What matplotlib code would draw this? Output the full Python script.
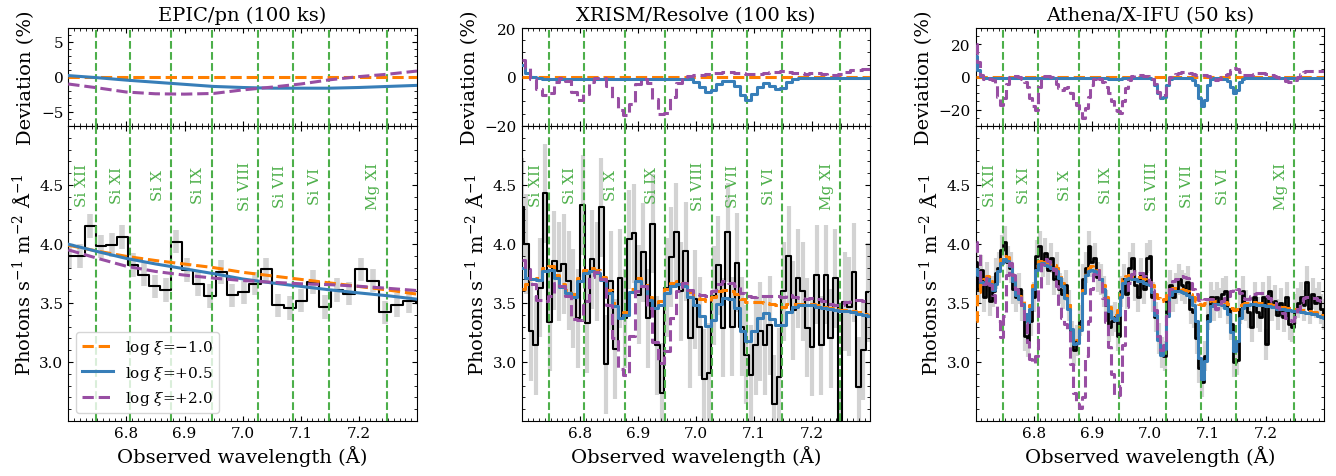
import matplotlib.pyplot as plt
import numpy as np
from matplotlib.ticker import MultipleLocator

plt.rcParams['font.family'] = 'DejaVu Serif'
plt.rcParams['mathtext.fontset'] = 'dejavuserif'

# ion lines (observed frame)
line_wl = [6.747, 6.807, 6.877, 6.947, 7.027, 7.087, 7.148, 7.248]
line_names = ['Si XII', 'Si XI', 'Si X', 'Si IX', 'Si VIII', 'Si VII', 'Si VI', 'Mg XI']

model_labels = [r'log $\xi$=$-$1.0', r'log $\xi$=+0.5', r'log $\xi$=+2.0']
model_colors = ['#ff7f00', '#377eb8', '#984ea3']
model_styles = ['--', '-', '--']

# ---- EPIC/pn ----
wl_pn = [6.702, 6.720, 6.738, 6.756, 6.775, 6.793, 6.811, 6.830, 6.849, 6.868,
         6.886, 6.905, 6.924, 6.944, 6.963, 6.982, 7.002, 7.021, 7.041, 7.061,
         7.081, 7.101, 7.121, 7.142, 7.162, 7.183, 7.203, 7.224, 7.245, 7.266,
         7.287, 7.308]
flux_pn = [3.90, 3.90, 4.15, 3.98, 3.99, 4.06, 3.82, 3.74, 3.64, 3.61,
           4.02, 3.78, 3.66, 3.56, 3.765, 3.565, 3.59, 3.665, 3.785, 3.48,
           3.46, 3.52, 3.68, 3.465, 3.61, 3.58, 3.785, 3.69, 3.42, 3.485,
           3.515, 3.50]
err_pn = 0.10
mwl_pn = [6.70, 6.75, 6.80, 6.85, 6.90, 6.95, 7.00, 7.05, 7.10, 7.15, 7.20, 7.25, 7.30]
ref_pn = [3.99, 3.94, 3.895, 3.86, 3.83, 3.80, 3.76, 3.73, 3.70, 3.67, 3.64, 3.61, 3.575]
dev05_pn = [0.2, -0.1, -0.45, -0.75, -1.05, -1.35, -1.5, -1.6, -1.6, -1.6, -1.5, -1.35, -1.2]
dev20_pn = [-1.0, -1.55, -2.15, -2.4, -2.45, -2.35, -1.85, -1.45, -1.0, -0.4, 0.05, 0.4, 0.85]

# ---- XRISM/Resolve ----
wl_xrism = np.linspace(6.700, 7.296, 75)
flux_xrism = [4.31,
              4.00, 3.26, 3.14, 3.63, 4.43, 3.34, 3.86, 3.77, 3.83, 3.69,
              3.54, 3.37, 4.33, 3.33, 3.87, 3.77, 4.31, 2.98, 3.69, 3.11,
              3.71, 3.37, 4.04, 4.09, 3.57, 3.93, 3.37, 4.17, 3.14, 2.74,
              3.63, 3.89, 4.10, 3.60, 3.94, 3.20, 3.53, 3.30, 2.86, 2.91,
              3.56, 3.82, 3.29, 4.10, 3.30, 3.84, 3.30, 3.06, 2.89, 3.14,
              3.26, 3.14, 3.31, 2.64, 2.87, 3.60, 3.90, 3.44, 3.71, 3.60,
              3.29, 3.13, 3.74, 3.14, 3.74, 3.20, 3.71, 2.40, 3.51, 3.47,
              3.76, 2.79, 3.10, 3.59]
err_xrism = 0.42
mwl_xrism = np.linspace(6.70, 7.30, 61)
ref_xrism = [3.62, 3.66, 3.70, 3.71, 3.80, 3.81, 3.74, 3.66, 3.61, 3.58,
             3.71, 3.78, 3.80, 3.78, 3.72, 3.61, 3.50, 3.40, 3.42, 3.62,
             3.71, 3.67, 3.55, 3.48, 3.52, 3.62, 3.67, 3.69, 3.67, 3.59,
             3.55, 3.53, 3.52, 3.55, 3.60, 3.61, 3.60, 3.58, 3.53, 3.51,
             3.51, 3.51, 3.50, 3.49, 3.48, 3.47, 3.49, 3.49, 3.49, 3.49,
             3.49, 3.48, 3.47, 3.46, 3.45, 3.44, 3.44, 3.43, 3.42, 3.41, 3.40]
dev05_xrism = [4.8, 1.5, 0.0, -0.5, -0.7, -0.7, -0.7, -0.7, -0.7, -0.7,
               -0.7, -0.7, -0.7, -0.7, -0.7, -0.7, -0.7, -0.7, -0.7, -0.7,
               -0.7, -0.7, -0.7, -0.7, -1.0, -1.0, -0.7, -0.7, -0.7, -1.0,
               -2.0, -4.0, -6.0, -5.5, -3.0, -1.8, -1.8, -3.5, -7.5, -9.5,
               -7.0, -4.0, -2.5, -3.5, -4.8, -4.5, -2.0, -0.8, -0.3, -0.3,
               -0.3, -0.3, -0.3, -0.3, -0.3, -0.3, -0.3, -0.3, -0.3, -0.3, -0.3]
dev20_xrism = [6.8, 3.5, -1.0, -5.0, -7.5, -6.5, -2.0, -0.5, -1.5, -6.0,
               -9.5, -7.0, -2.0, -0.5, -0.5, -3.5, -8.5, -13.5, -15.5, -11.0,
               -3.0, -0.7, -2.5, -9.0, -15.0, -14.5, -8.0, -2.5, 0.0, 0.5,
               0.8, 1.0, 1.2, 1.5, 1.8, 2.0, 2.0, 1.8, 1.5, 1.3,
               1.2, 1.3, 1.8, 2.0, 2.2, 2.3, 2.2, 1.8, 1.5, 1.3,
               1.5, 1.5, 1.3, 1.0, 1.0, 1.2, 2.0, 2.8, 3.0, 3.2, 3.4]

# ---- Athena/X-IFU ----
wl_xifu = np.linspace(6.70, 7.30, 121)
flux_xifu = [3.85, 3.62, 3.78, 3.55, 3.72, 3.52, 3.60, 3.75, 3.80, 3.95,
             4.02, 3.85, 3.80, 3.62, 3.55, 3.62, 3.48, 3.22, 3.17, 3.35,
             3.55, 3.90, 3.98, 3.85, 3.92, 3.78, 3.88, 3.70, 3.80, 3.62,
             3.58, 3.65, 3.48, 3.22, 3.10, 3.18, 3.35, 3.70, 3.80, 3.98,
             3.85, 3.88, 3.72, 3.70, 3.60, 3.48, 3.30, 3.35, 3.38, 3.22,
             3.60, 3.70, 3.58, 3.80, 3.88, 3.65, 3.55, 3.75, 3.62, 3.88,
             3.90, 3.55, 3.38, 3.20, 3.08, 3.05, 3.55, 3.65, 3.55, 3.62,
             3.70, 3.65, 3.62, 3.68, 3.45, 3.42, 3.20, 2.95, 2.83, 3.05,
             3.40, 3.55, 3.48, 3.55, 3.50, 3.58, 3.60, 3.45, 3.32, 3.00,
             3.02, 3.45, 3.60, 3.48, 3.42, 3.30, 3.55, 3.42, 3.38, 3.55,
             3.15, 3.60, 3.48, 3.52, 3.40, 3.50, 3.38, 3.55, 3.32, 3.30,
             3.45, 3.50, 3.55, 3.48, 3.68, 3.45, 3.58, 3.50, 3.55, 3.45, 3.40]
err_xifu = 0.13
mwl_xifu = np.linspace(6.70, 7.30, 121)
ref_xifu = [3.35, 3.59, 3.66, 3.70, 3.73, 3.69, 3.64, 3.69, 3.80, 3.87,
            3.90, 3.89, 3.84, 3.72, 3.60, 3.56, 3.52, 3.43, 3.37, 3.48,
            3.65, 3.81, 3.86, 3.87, 3.85, 3.84, 3.83, 3.82, 3.80, 3.74,
            3.67, 3.57, 3.48, 3.31, 3.18, 3.19, 3.30, 3.61, 3.77, 3.80,
            3.81, 3.80, 3.78, 3.73, 3.65, 3.55, 3.47, 3.41, 3.40, 3.44,
            3.59, 3.70, 3.73, 3.74, 3.73, 3.73, 3.72, 3.72, 3.70, 3.69,
            3.68, 3.65, 3.58, 3.54, 3.52, 3.53, 3.57, 3.62, 3.63, 3.63,
            3.63, 3.62, 3.61, 3.60, 3.58, 3.55, 3.52, 3.49, 3.48, 3.50,
            3.52, 3.53, 3.52, 3.52, 3.52, 3.52, 3.51, 3.49, 3.46, 3.44,
            3.45, 3.48, 3.49, 3.50, 3.50, 3.51, 3.51, 3.50, 3.50, 3.50,
            3.49, 3.49, 3.48, 3.48, 3.47, 3.47, 3.47, 3.46, 3.46, 3.45,
            3.45, 3.45, 3.44, 3.44, 3.43, 3.43, 3.42, 3.42, 3.41, 3.40, 3.39]
dev05_xifu = [13, 4, 0.5, -0.8, -0.8, -0.8, -0.8, -0.8, -0.8, -0.8,
              -0.8, -0.8, -0.8, -0.8, -0.8, -0.8, -0.8, -0.8, -0.8, -0.8,
              -0.8, -0.8, -0.8, -0.8, -0.8, -0.8, -0.8, -0.8, -0.8, -0.8,
              -0.8, -0.8, -0.8, -0.8, -0.8, -0.8, -0.8, -0.8, -0.8, -0.8,
              -0.8, -0.8, -0.8, -0.8, -0.8, -0.8, -1.0, -1.2, -1.3, -1.2,
              -1.0, -0.8, -0.8, -0.8, -0.8, -0.8, -0.8, -0.8, -0.8, -0.8,
              -0.8, -1.5, -5, -10, -13, -12, -5, -1.5, -0.8, -0.8,
              -0.8, -0.8, -0.8, -0.8, -0.8, -2, -5, -13, -18, -14,
              -5, -1.5, -0.8, -0.8, -0.8, -1.0, -1.5, -2.5, -6, -10,
              -8, -3, -1, -0.5, -0.5, -0.5, -0.5, -0.5, -0.5, -0.5,
              -0.5, -0.5, -0.5, -0.5, -0.5, -0.5, -0.5, -0.5, -0.5, -0.5,
              -0.5, -0.5, -0.5, -0.5, -0.5, -0.5, -0.5, -0.5, -0.5, -0.5, -0.5]
dev20_xifu = [20, 9, 1, -1, -0.5, -1, -2, -5, -12, -17,
              -13, -4, 0, 0.5, 0.5, 0, -1, -3, -6, -13,
              -18, -20, -6, -1, 0.5, 0.5, 0, -1, -4, -7,
              -8, -7, -6, -10, -14, -17, -21, -25, -19, -12,
              -5, -1.5, 0, -1, -3, -6, -10, -15, -20, -21,
              -22, -15, -7, -2, 0.5, 1, 1, 1, 0.8, 0.5,
              0, -1, -4, -9, -12, -11, -5, 0, 1.5, 2,
              2.5, 3, 3, 3, 2.5, 2, 1.5, 1, 1, 1,
              0.5, 0, -1, -2, -1, 0, 1, 2, 4, 5.5,
              5, 3, 1.5, 1, 1, 1.5, 2, 2.5, 2.5, 2.5,
              2, 1.5, 1, 0.5, 0, -0.5, -1.5, -2.5, -3, -3,
              -2, 0, 2, 3, 3.5, 3.5, 3.5, 3.5, 3.5, 3.5, 3.5]

panels = [
    dict(title='EPIC/pn (100 ks)', wl=wl_pn, flux=flux_pn, err=err_pn,
         mwl=mwl_pn, ref=ref_pn, dev05=dev05_pn, dev20=dev20_pn,
         dlim=(-7, 7), dticks=[-5, 0, 5], steps=False, dlw=1.5, elw=4),
    dict(title='XRISM/Resolve (100 ks)', wl=wl_xrism, flux=flux_xrism, err=err_xrism,
         mwl=mwl_xrism, ref=ref_xrism, dev05=dev05_xrism, dev20=dev20_xrism,
         dlim=(-20, 20), dticks=[-20, 0, 20], steps=True, dlw=1.5, elw=3),
    dict(title='Athena/X-IFU (50 ks)', wl=wl_xifu, flux=flux_xifu, err=err_xifu,
         mwl=mwl_xifu, ref=ref_xifu, dev05=dev05_xifu, dev20=dev20_xifu,
         dlim=(-30, 30), dticks=[-20, 0, 20], steps=True, dlw=2.0, elw=3),
]

fig = plt.figure(figsize=(13.36, 4.77), dpi=100)
lefts = [0.0511, 0.3905, 0.7303]

for i, p in enumerate(panels):
    ax_d = fig.add_axes([lefts[i], 0.7338, 0.261, 0.2054])
    ax_f = fig.add_axes([lefts[i], 0.1153, 0.261, 0.6185])

    wl = np.asarray(p['wl'])
    flux = np.asarray(p['flux'])
    ax_f.vlines(wl, flux - p['err'], flux + p['err'], color='#d3d3d3',
                lw=p['elw'], zorder=1)
    ax_f.plot(wl, flux, drawstyle='steps-mid', color='k', lw=p['dlw'], zorder=2)

    for lw_, name in zip(line_wl, line_names):
        ax_d.axvline(lw_, color='#4daf4a', ls='--', lw=1.5, zorder=3)
        ax_f.axvline(lw_, color='#4daf4a', ls='--', lw=1.5, zorder=3)
        ax_f.text(lw_ - 0.011, 4.5, name, rotation=90, ha='right', va='center',
                  color='#4daf4a', fontsize=11)

    mwl = np.asarray(p['mwl'])
    ref = np.asarray(p['ref'])
    devs = [np.zeros_like(ref), np.asarray(p['dev05'], float), np.asarray(p['dev20'], float)]
    ds = 'steps-mid' if p['steps'] else 'default'
    for k, (dev, lab, c, ls) in enumerate(zip(devs, model_labels, model_colors, model_styles)):
        ax_d.plot(mwl, dev, color=c, ls=ls, lw=2.2, drawstyle=ds, zorder=4 + k)
        ax_f.plot(mwl, ref * (1 + dev / 100), color=c, ls=ls, lw=2.2,
                  drawstyle=ds, zorder=4 + k, label=lab)

    for ax in (ax_d, ax_f):
        ax.set_xlim(6.7, 7.3)
        ax.set_xticks([6.8, 6.9, 7.0, 7.1, 7.2])
        ax.minorticks_on()
        ax.xaxis.set_minor_locator(MultipleLocator(0.01))
        ax.tick_params(which='both', direction='in', top=True, right=True, labelsize=11)

    ax_d.set_ylim(*p['dlim'])
    ax_d.set_yticks(p['dticks'])
    ax_d.tick_params(labelbottom=False)
    ax_d.set_ylabel('Deviation (%)', fontsize=14)
    ax_d.set_title(p['title'], fontsize=14)

    ax_f.set_ylim(2.5, 5.0)
    ax_f.set_yticks([3.0, 3.5, 4.0, 4.5])
    ax_f.yaxis.set_minor_locator(MultipleLocator(0.1))
    ax_f.set_ylabel(r'Photons s$^{-1}$ m$^{-2}$ Å$^{-1}$', fontsize=14)
    ax_f.set_xlabel('Observed wavelength (Å)', fontsize=14)

    if i == 0:
        ax_f.legend(loc='lower left', fontsize=11)

fig.savefig('out.png', dpi=100)
